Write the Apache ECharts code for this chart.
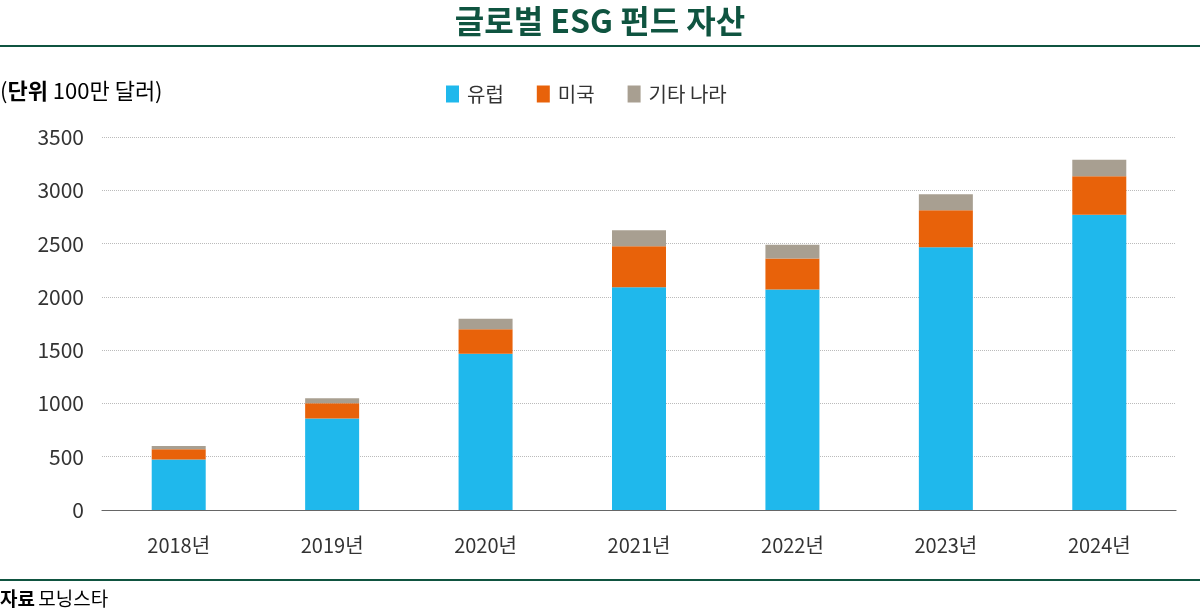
<!DOCTYPE html>
<html>
<head>
<meta charset="utf-8">
<script src="https://cdn.jsdelivr.net/npm/echarts@6/dist/echarts.min.js"></script>
<style>
  html, body { margin: 0; padding: 0; background: #fff; }
  #chart { width: 1200px; height: 613px; }
</style>
</head>
<body>
<div id="chart"></div>
<script>
const years = ['2018년', '2019년', '2020년', '2021년', '2022년', '2023년', '2024년']
const europe = [475, 858, 1465, 2090, 2070, 2465, 2770]
const usa = [95, 143, 230, 385, 290, 347, 362]
const others = [30, 47, 100, 150, 130, 150, 155]
const yTicks = [0, 500, 1000, 1500, 2000, 2500, 3000, 3500]

const font = '"Noto Sans CJK KR", "Noto Sans", sans-serif'
const green = '#0f5440'

const chart = echarts.init(document.getElementById('chart'))

const barSeries = (name, data, color) => ({
  name: name,
  type: 'bar',
  stack: 'total',
  barWidth: 54,
  data: data,
  itemStyle: { color: color },
  emphasis: { disabled: true }
})

const option = {
  animation: false,
  textStyle: { fontFamily: font },
  title: {
    text: '글로벌 ESG 펀드 자산',
    left: 'center',
    top: 0,
    textStyle: { fontFamily: font, fontSize: 32, fontWeight: 'bold', color: green }
  },
  legend: {
    top: 79,
    left: 441,
    icon: 'rect',
    itemWidth: 13,
    itemHeight: 17,
    itemGap: 33,
    textStyle: { fontFamily: font, fontSize: 20, color: '#333', padding: [0, 0, 0, 3] },
    data: ['유럽', '미국', '기타 나라']
  },
  grid: { left: 102, right: 24, top: 137, bottom: 103 },
  xAxis: {
    type: 'category',
    data: years,
    axisLine: { lineStyle: { color: '#666', width: 1.2 } },
    axisTick: { inside: true, length: 12, lineStyle: { color: '#666' } },
    axisLabel: { fontFamily: font, fontSize: 20, color: '#333', margin: 25 }
  },
  yAxis: {
    type: 'value',
    min: yTicks[0],
    max: yTicks[yTicks.length - 1],
    interval: yTicks[1] - yTicks[0],
    axisLine: { show: false },
    axisTick: { show: false },
    axisLabel: { fontFamily: font, fontSize: 21, color: '#333', margin: 18, formatter: v => String(v) },
    splitLine: { lineStyle: { color: '#bbb', type: 'dotted', width: 1 } }
  },
  graphic: [
    { type: 'rect', left: 0, top: 45, shape: { width: 1200, height: 2 }, style: { fill: green } },
    { type: 'rect', left: 0, top: 579, shape: { width: 1200, height: 2 }, style: { fill: green } },
    {
      type: 'text', left: 0, top: 80,
      style: {
        text: '{p|(}{b|단위}{n| 100만 달러)}',
        rich: {
          p: { fontFamily: font, fontSize: 22, color: '#333' },
          b: { fontFamily: font, fontSize: 22, fontWeight: 'bold', color: '#333' },
          n: { fontFamily: font, fontSize: 22, color: '#333' }
        }
      }
    },
    {
      type: 'text', left: 0, top: 589,
      style: {
        text: '{b|자료} {n|모닝스타}',
        rich: {
          b: { fontFamily: font, fontSize: 19, fontWeight: 'bold', color: '#222' },
          n: { fontFamily: font, fontSize: 19, color: '#222' }
        }
      }
    }
  ],
  series: [
    barSeries('유럽', europe, '#1fb8ec'),
    barSeries('미국', usa, '#e8620a'),
    barSeries('기타 나라', others, '#a89f91')
  ]
}

chart.setOption(option)
</script>
</body>
</html>
